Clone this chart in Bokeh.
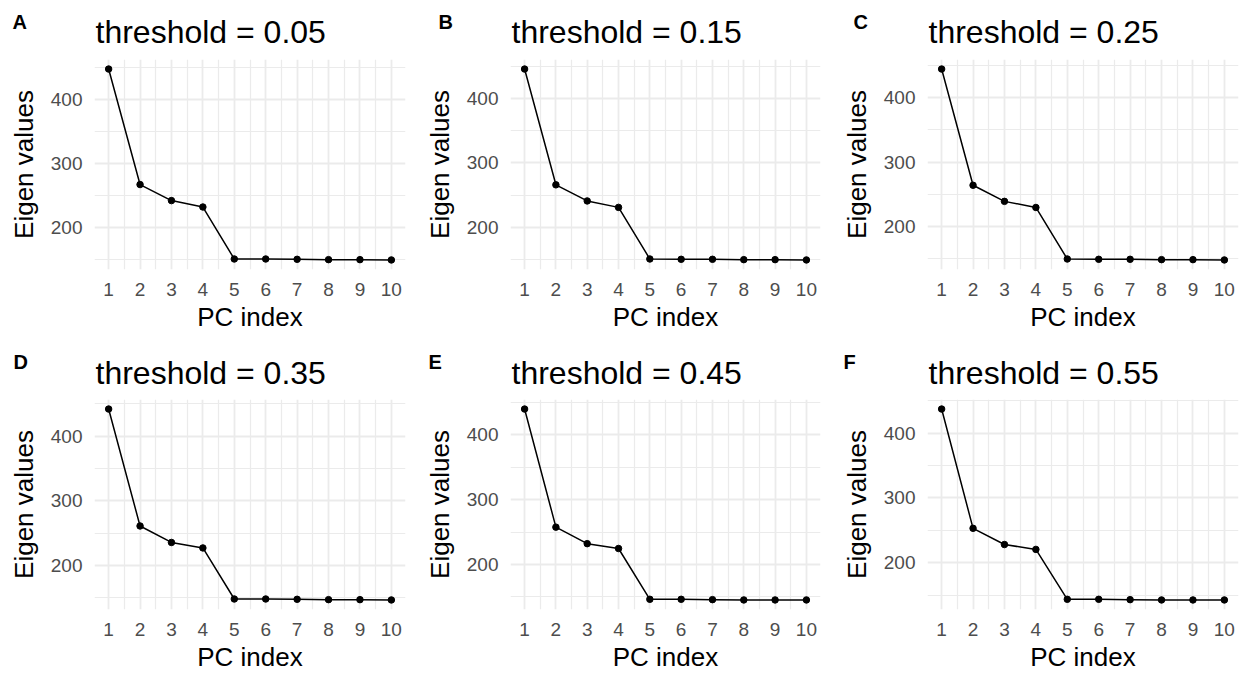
from bokeh.plotting import figure
from bokeh.layouts import column, row
from bokeh.models import Range1d, FixedTicker, Label, ColumnDataSource
from bokeh.embed import file_html
from bokeh.resources import INLINE

pc_index = [1, 2, 3, 4, 5, 6, 7, 8, 9, 10]
letters = ["A", "B", "C", "D", "E", "F"]
thresholds = ["0.05", "0.15", "0.25", "0.35", "0.45", "0.55"]

eig_a = [447, 267, 242, 232, 151, 151, 150.5, 150, 150, 149.5]
eig_b = [445.5, 266, 241, 231, 151, 150.5, 150.5, 150, 150, 149.5]
eig_c = [444.5, 264, 239, 229.5, 149.5, 149, 149, 148.5, 148.5, 148]
eig_d = [442, 261, 235.5, 227, 148, 148, 147.5, 147, 147, 146.5]
eig_e = [440, 257.5, 232, 224.5, 146, 146, 145.5, 145, 145, 145]
eig_f = [437, 253, 228, 220.5, 143.5, 143.5, 143, 142.5, 142.5, 142.5]
series = [eig_a, eig_b, eig_c, eig_d, eig_e, eig_f]

y_ticks = [200, 300, 400]
y_minor = [150, 250, 350, 450]
x_minor = [1.5, 2.5, 3.5, 4.5, 5.5, 6.5, 7.5, 8.5, 9.5]

FONT = "Liberation Sans"
W = 1247
HEADER_H = 58
widths = [416, 415, 416]
col_x0 = [0, 416, 831]
left_b = [94, 94, 96]
right_b = [11, 11, 9]
letter_x = [12, 22, 22, 13, 12, 12]


def make_header(r):
    h = figure(width=W, height=HEADER_H, output_backend="svg", toolbar_location=None,
               x_axis_type=None, y_axis_type=None, min_border=0,
               x_range=Range1d(0, W), y_range=Range1d(0, HEADER_H))
    h.outline_line_color = None
    h.xgrid.visible = False
    h.ygrid.visible = False
    for c in range(3):
        i = r * 3 + c
        h.add_layout(Label(x=col_x0[c] + left_b[c] + 1, y=HEADER_H - 31 - r,
                           x_units="screen", y_units="screen",
                           text="threshold = " + thresholds[i], text_font=FONT,
                           text_font_size="32px", text_color="black",
                           text_baseline="middle", text_align="left"))
        h.add_layout(Label(x=col_x0[c] + letter_x[i], y=HEADER_H - 21,
                           x_units="screen", y_units="screen",
                           text=letters[i], text_font=FONT, text_font_size="20px",
                           text_font_style="bold", text_color="black",
                           text_baseline="middle", text_align="left"))
    return h


def make_panel(i):
    col = i % 3
    vals = series[i]
    lo, hi = min(vals), max(vals)
    pad = 0.05 * (hi - lo)
    xpad = 0.05 * (max(pc_index) - min(pc_index))
    p = figure(width=widths[col], height=340 - HEADER_H, output_backend="svg", toolbar_location=None,
               x_range=Range1d(min(pc_index) - xpad, max(pc_index) + xpad),
               y_range=Range1d(lo - pad, hi + pad),
               min_border_left=left_b[col], min_border_right=right_b[col],
               min_border_top=1, min_border_bottom=71)
    p.outline_line_color = None
    p.background_fill_color = "white"
    p.border_fill_color = "white"

    p.xaxis.ticker = FixedTicker(ticks=pc_index, minor_ticks=x_minor)
    p.yaxis.ticker = FixedTicker(ticks=y_ticks, minor_ticks=y_minor)
    for ax in (p.xaxis, p.yaxis):
        ax.axis_line_color = None
        ax.major_tick_line_color = None
        ax.minor_tick_line_color = None
        ax.major_tick_out = 0
        ax.major_tick_in = 0
        ax.minor_tick_out = 0
        ax.minor_tick_in = 0
        ax.major_label_text_font = FONT
        ax.major_label_text_font_size = "19px"
        ax.major_label_text_color = "#4D4D4D"
        ax.axis_label_text_font = FONT
        ax.axis_label_text_font_size = "26px"
        ax.axis_label_text_font_style = "normal"
        ax.axis_label_text_color = "black"
    p.xaxis.axis_label = "PC index"
    p.yaxis.axis_label = "Eigen values"
    p.xaxis.major_label_standoff = 13
    p.yaxis.major_label_standoff = 12
    p.xaxis.axis_label_standoff = 3
    p.yaxis.axis_label_standoff = 9

    for g in (p.xgrid, p.ygrid):
        g.grid_line_color = "#EBEBEB"
        g.grid_line_width = 1.8
        g.minor_grid_line_color = "#EBEBEB"
        g.minor_grid_line_width = 1.2

    src = ColumnDataSource(dict(x=pc_index, y=vals))
    p.line("x", "y", source=src, line_color="black", line_width=1.5)
    p.scatter("x", "y", source=src, size=6.5, fill_color="black", line_color="black")
    return p


layout = column(
    make_header(0),
    row(*[make_panel(i) for i in range(3)]),
    make_header(1),
    row(*[make_panel(i) for i in range(3, 6)]),
)
open("out.html", "w").write(file_html(layout, INLINE))
